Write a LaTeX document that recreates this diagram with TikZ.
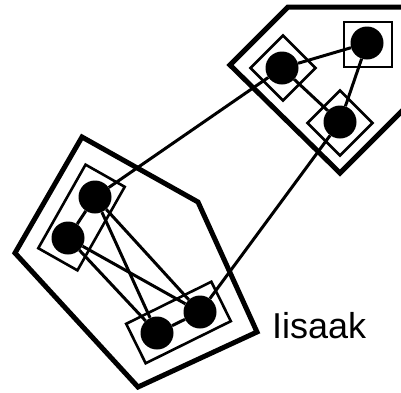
\documentclass[tikz,border=0pt]{standalone}
\usepackage{fontspec}
\setmainfont{Liberation Sans}
\usetikzlibrary{calc}

\begin{document}
\begin{tikzpicture}[x=1pt, y=-1pt,
    punto/.style={circle, fill=black, inner sep=0pt, minimum size=33pt},
    caja/.style={draw, line width=2.6pt, inner sep=0pt},
    arista/.style={line width=3pt},
    grupo/.style={line width=5pt, line join=miter}]
  \clip (0,0) rectangle (401,392);

  % Puntos
  \node[punto] (a1) at (95,197) {};
  \node[punto] (a2) at (68,238) {};
  \node[punto] (a3) at (157,333) {};
  \node[punto] (a4) at (200,312) {};
  \node[punto] (b1) at (282,68) {};
  \node[punto] (b2) at (367,43) {};
  \node[punto] (b3) at (340,122) {};

  % Aristas
  \foreach \u/\v in {a1/a2, a1/a3, a1/a4, a2/a3, a2/a4, a3/a4,
                     b1/b2, b1/b3, b2/b3, a1/b1, a4/b3}
    \draw[arista] (\u) -- (\v);

  % Cajas de los pares
  \node[caja, minimum width=45pt, minimum height=96pt, rotate=-29.5]
    (ca) at ($(a1)!0.5!(a2)$) {};
  \node[caja, minimum width=95pt, minimum height=44pt, rotate=26.3]
    (cb) at ($(a3)!0.5!(a4)$) {};
  \node[caja, minimum size=46pt, rotate=45] (cc) at (283,68) {};
  \node[caja, minimum width=48pt, minimum height=45pt] (cd) at (368,44.5) {};
  \node[caja, minimum size=46pt, rotate=45] (ce) at (340,123) {};

  % Grupos
  \draw[grupo] (82,137) -- (198,202) -- (257,332) -- (138,387) -- (15,253) -- cycle;
  \draw[grupo] (230,65) -- (288,7) -- (506,7) -- (340,173) -- cycle;

  \node[anchor=base west, inner sep=0pt, font=\fontsize{36}{40}\selectfont]
    (nombre) at (272,338) {Iisaak};
\end{tikzpicture}
\end{document}
